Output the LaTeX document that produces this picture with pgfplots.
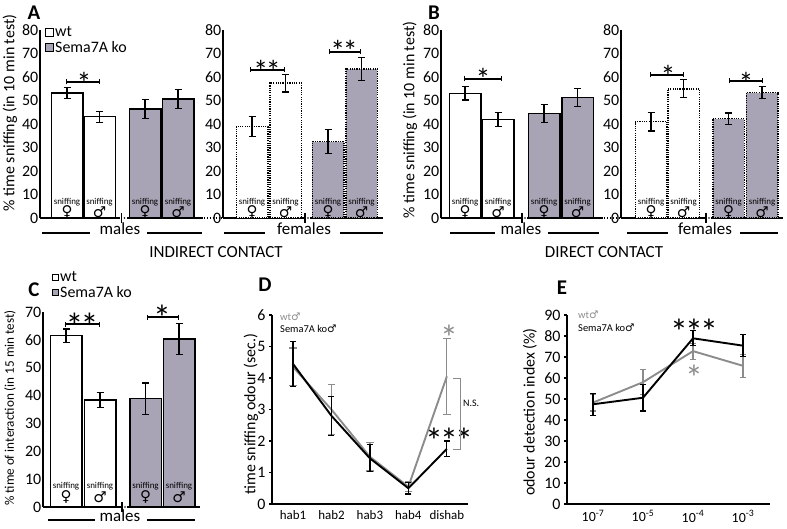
\documentclass[border=0pt]{standalone}
\usepackage{pgfplots}
\pgfplotsset{compat=1.18}
\usepackage{fontspec}
\setmainfont{Carlito}
\newfontfamily\sym{DejaVu Sans}
\usetikzlibrary{arrows.meta}
\definecolor{kofill}{RGB}{169,164,181}
\definecolor{wtgray}{RGB}{140,140,140}
\newcommand{\fs}[1]{\fontsize{#1}{#1}\selectfont}
\newcommand{\st}{*\kern-0.08em}
\pgfplotsset{
  barax/.style={scale only axis, anchor=south west, axis lines=left,
    axis line style={-, line width=2bp}, ymin=0, xmin=0, clip=false,
    xtick=\empty, major tick length=0pt, ytick style={draw=none},
    /pgf/number format/assume math mode=true,
    yticklabel style={font=\fs{16}, inner sep=1.5bp}},
  bb/.style={ybar, /pgf/bar shift=0pt, /pgf/bar width=31.5, line width=1.5bp,
    error bars/y dir=both, error bars/y explicit,
    error bars/error bar style={line width=1.2bp, solid, black},
    error bars/error mark options={rotate=90, line width=1.2bp, mark size=3.5bp, solid, black}},
  wt/.style={bb, fill=white, draw=black},
  ko/.style={bb, fill=kofill, draw=black},
  dt/.style={dash pattern=on 1.2bp off 1.1bp},
  lineax/.style={scale only axis, anchor=south west, axis lines=left,
    axis line style={-, line width=2bp}, clip=false, xtick style={draw=none},
    ytick style={line width=1.2bp, black}, tick align=outside, major tick length=3bp,
    /pgf/number format/assume math mode=true,
    yticklabel style={font=\fs{16}}, xticklabel style={font=\fs{13}}},
  ln/.style={no markers, line width=1.9bp, error bars/y dir=both, error bars/y explicit,
    error bars/error bar style={line width=1.2bp, solid},
    error bars/error mark options={rotate=90, line width=1.2bp, mark size=#1, solid}},
}
\begin{document}
\begin{tikzpicture}[x=1bp, y=-1bp]
\useasboundingbox (0,0) rectangle (787,529);

% ===== Panel A males =====
\begin{axis}[barax, at={(40bp,-218bp)}, width=163bp, height=188bp, xmax=163, ymax=80, ytick={0,10,...,80}]
\addplot[wt] coordinates {(27,53.1) +- (0,2.4)};
\addplot[wt] coordinates {(59.5,43.1) +- (0,2.3)};
\addplot[ko] coordinates {(105,46.3) +- (0,4)};
\addplot[ko] coordinates {(138,50.6) +- (0,4)};
\end{axis}
% ===== Panel A females =====
\begin{axis}[barax, at={(223bp,-218bp)}, width=160bp, height=188bp, xmax=160, ymax=80, ytick={0,10,...,80}]
\addplot[wt, dt] coordinates {(29,38.9) +- (0,4.2)};
\addplot[wt, dt] coordinates {(62.5,57.4) +- (0,3.8)};
\addplot[ko, dt] coordinates {(105,32.5) +- (0,5)};
\addplot[ko, dt] coordinates {(138.5,63.4) +- (0,4.9)};
\end{axis}
% ===== Panel B males =====
\begin{axis}[barax, at={(441bp,-218bp)}, width=162bp, height=188bp, xmax=162, ymax=80, ytick={0,10,...,80}]
\addplot[wt] coordinates {(24,53) +- (0,2.8)};
\addplot[wt] coordinates {(57,42) +- (0,3)};
\addplot[ko] coordinates {(103,44.5) +- (0,3.8)};
\addplot[ko] coordinates {(136.5,51.2) +- (0,3.9)};
\end{axis}
% ===== Panel B females =====
\begin{axis}[barax, at={(621bp,-218bp)}, width=162bp, height=188bp, xmax=162, ymax=80, ytick={0,10,...,80}]
\addplot[wt, dt] coordinates {(30,41) +- (0,4)};
\addplot[wt, dt] coordinates {(62.5,55) +- (0,3.8)};
\addplot[ko, dt] coordinates {(107.5,42.3) +- (0,2.4)};
\addplot[ko, dt] coordinates {(141,53.3) +- (0,2.6)};
\end{axis}
% ===== Panel C =====
\begin{axis}[barax, at={(43bp,-507bp)}, width=157bp, height=195bp, xmax=157, ymax=70, ytick={0,10,...,70}]
\addplot[wt] coordinates {(23,61.5) +- (0,2.4)};
\addplot[wt] coordinates {(57,38.4) +- (0,2.6)};
\addplot[ko] coordinates {(102.5,38.9) +- (0,5.6)};
\addplot[ko] coordinates {(136,60.3) +- (0,5.6)};
\end{axis}
% ===== Panel D =====
\begin{axis}[lineax, at={(272bp,-504bp)}, width=196bp, height=189bp, xmin=0.455, xmax=5.55, ymin=0, ymax=6,
  ytick={0,...,6}, xtick={1,2,3,4,5}, xticklabels={hab1,hab2,hab3,hab4,dishab}]
\addplot[ln=3.8bp, wtgray] coordinates {(1,4.35) +- (0,0.6) (2,3.0) +- (0,0.8) (3,1.5) +- (0,0.45) (4,0.55) +- (0,0.15) (5,4.05) +- (0,1.2)};
\addplot[ln=3bp, black] coordinates {(1,4.45) +- (0,0.72) (2,2.8) +- (0,0.62) (3,1.45) +- (0,0.43) (4,0.5) +- (0,0.18) (5,1.75) +- (0,0.25)};
\end{axis}
% ===== Panel E =====
\begin{axis}[lineax, at={(567bp,-504bp)}, width=203bp, height=189bp, xmin=0.48, xmax=4.54, ymin=0, ymax=90,
  ytick={0,10,...,90}, xtick={1,2,3,4}, xticklabel style={font=\fs{14}},
  xticklabels={10\textsuperscript{-7},10\textsuperscript{-5},10\textsuperscript{-4},10\textsuperscript{-3}}]
\addplot[ln=3bp, wtgray] coordinates {(1,48.3) +- (0,4) (2,58) +- (0,6) (3,72.8) +- (0,3.8) (4,65.8) +- (0,5.5)};
\addplot[ln=3bp, black] coordinates {(1,47.5) +- (0,5.2) (2,50.6) +- (0,6.3) (3,78.9) +- (0,3.6) (4,75.4) +- (0,5.3)};
\end{axis}

% ---- baseline breaks and connectors ----
\foreach \bx/\by in {121.5/218, 305/218, 522/218, 706/218, 122/507}{
  \fill[white] (\bx-1.5,\by-2) rectangle (\bx+5,\by+2);
  \draw[line width=1.2bp] (\bx,\by-5) -- (\bx,\by+5);
  \fill (\bx+3,\by) circle (0.9);
}
\draw[line width=1.6bp, dash pattern=on 1.3bp off 1.6bp] (204,218) -- (222,218);
\draw[line width=1.6bp, dash pattern=on 1.3bp off 1.6bp] (604,218) -- (620,218);

% ---- sniffing labels ----
\foreach \cx in {67,99.5,145,178,252,285.5,328,361.5,465,498,544,577.5,651,683.5,728.5,762}{
  \node[font=\fs{9}, inner sep=0] at (\cx,202) {sniffing};}
\foreach \cx in {67,145,252,328,465,544,651,728.5}{\node[font=\sym\fs{15}, inner sep=0] at (\cx,212) {♀};}
\foreach \cx in {99.5,178,285.5,361.5,498,577.5,683.5,762}{\node[font=\sym\fs{15}, inner sep=0] at (\cx,212) {♂};}
\foreach \cx in {66,100,145.5,179}{\node[font=\fs{9}, inner sep=0] at (\cx,486) {sniffing};}
\foreach \cx in {66,145.5}{\node[font=\sym\fs{15}, inner sep=0] at (\cx,497) {♀};}
\foreach \cx in {100,179}{\node[font=\sym\fs{15}, inner sep=0] at (\cx,497) {♂};}

% ---- group labels ----
\begin{scope}[line width=1.5bp]
\draw (42,233) -- (90,233) (147,233) -- (202,233);
\node[font=\fs{17}] at (120,229) {males};
\draw (224,233) -- (265,233) (340,233) -- (383,233);
\node[font=\fs{17}] at (304,229) {females};
\node[font=\fs{17}] at (216,252) {INDIRECT CONTACT};
\draw (450,233) -- (495,233) (548,233) -- (599,233);
\node[font=\fs{17}] at (521,229) {males};
\draw (627,233) -- (668,233) (740,233) -- (778,233);
\node[font=\fs{17}] at (705,229) {females};
\node[font=\fs{17}] at (604,252) {DIRECT CONTACT};
\draw (48,520) -- (95,520) (147,520) -- (195,520);
\node[font=\fs{17}] at (120,516) {males};
\end{scope}

% ---- significance ----
\begin{scope}[line width=1.2bp, {Bar[width=5bp]}-{Bar[width=5bp]}]
\draw (66,82) -- (100,82);
\draw (250,70) -- (285,70);
\draw (329,52) -- (361,52);
\draw (464,79) -- (502,79);
\draw (650,75) -- (684,75);
\draw (729,81) -- (763,81);
\draw (65,324) -- (100,324);
\draw (147,317) -- (179,317);
\end{scope}
\begin{scope}[every node/.style={anchor=north, inner sep=0}]
\node[font=\fs{30}] at (84,72) {*};
\node[font=\fs{30}] at (267,60) {\st*};
\node[font=\fs{30}] at (344,40) {\st*};
\node[font=\fs{30}] at (483,68) {*};
\node[font=\fs{30}] at (668,65) {*};
\node[font=\fs{30}] at (746,72) {*};
\node[font=\fs{36}] at (82,313) {\st*};
\node[font=\fs{36}] at (162,305) {*};
\node[font=\fs{36}, wtgray] at (449,325) {*};
\node[font=\fs{36}] at (449,428) {\st\st*};
\node[font=\fs{36}] at (694,319) {\st\st*};
\node[font=\fs{36}, wtgray] at (694,365) {*};
\end{scope}
% N.S. bracket
\draw[wtgray, line width=0.9bp] (453,378) -- (460,378) -- (460,449) -- (453,449);
\node[font=\fs{10}, anchor=west, inner sep=0] at (463,403) {N.S.};

% ---- legends ----
\draw[line width=0.9bp, fill=white] (45,28) rectangle (53,36);
\node[font=\fs{16}, anchor=west, inner sep=0] at (55,32) {wt};
\draw[line width=0.9bp, fill=kofill] (45,43) rectangle (53,51);
\node[font=\fs{16}, anchor=west, inner sep=0] at (55,47) {Sema7A ko};
\draw[line width=0.9bp, fill=white] (52,274) rectangle (58.5,280.5);
\node[font=\fs{16}, anchor=west, inner sep=0] at (60,277) {wt};
\draw[line width=0.9bp, fill=kofill] (52,289) rectangle (58.5,295.5);
\node[font=\fs{16}, anchor=west, inner sep=0] at (60,292) {Sema7A ko};
\node[font=\fs{10.5}, anchor=west, inner sep=0, wtgray] at (280,317) {wt{\sym♂}};
\node[font=\fs{10.5}, anchor=west, inner sep=0] at (280,329) {Sema7A ko{\sym♂}};
\node[font=\fs{10.5}, anchor=west, inner sep=0, wtgray] at (578,315) {wt{\sym♂}};
\node[font=\fs{10.5}, anchor=west, inner sep=0] at (578,328) {Sema7A ko{\sym♂}};

% ---- y labels ----
\node[font=\fs{16}, rotate=90] at (10,113) {\% time sniffing (in 10 min test)};
\node[font=\fs{16}, rotate=90] at (410,120) {\% time sniffing (in 10 min test)};
\node[font=\fs{13.2}, rotate=90] at (10,408) {\% time of interaction (in 15 min test)};
\node[font=\fs{16}, rotate=90] at (251,414) {time sniffing odour (sec.)};
\node[font=\fs{16}, rotate=90] at (530,412) {odour detection index (\%)};

% ---- panel letters ----
\node[font=\bfseries\fs{21}] at (34,13) {A};
\node[font=\bfseries\fs{21}] at (434,13) {B};
\node[font=\bfseries\fs{21}] at (34,290) {C};
\node[font=\bfseries\fs{21}] at (265,285) {D};
\node[font=\bfseries\fs{21}] at (562,288) {E};
\end{tikzpicture}
\end{document}
